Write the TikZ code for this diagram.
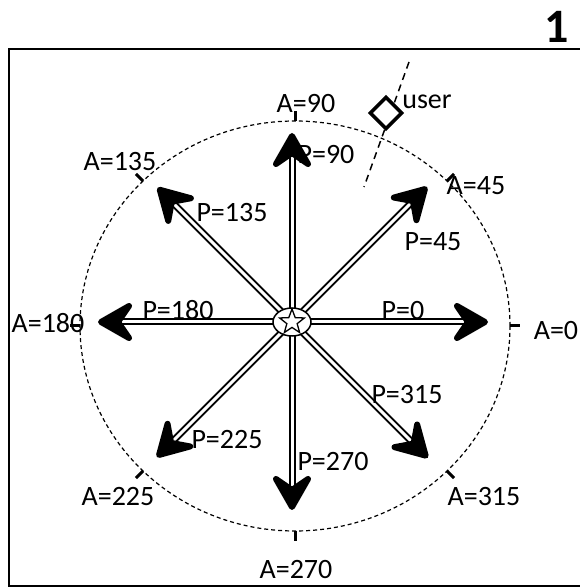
\documentclass[tikz,border=0pt]{standalone}
\usepackage{fontspec}
\setmainfont{Carlito}
\usetikzlibrary{calc,shapes.geometric}

\tikzset{
  pshaft/.style={line width=7pt,shorten >=20pt},
  pgap/.style={white,line width=3pt,shorten >=22pt},
  phead/.pic={\draw[line width=6pt,line join=round,fill] (-3,0) -- (-31,16) -- (-20,0) -- (-31,-16) -- cycle;},
  tck/.style={line width=3pt},
  lbl/.style={inner sep=0pt,font=\fontsize{28}{30}\selectfont},
}

\begin{document}
\begin{tikzpicture}[x=1pt,y=1pt]
      \useasboundingbox (0,0) rectangle (579,587);
      \draw[line width=2pt] (590,1) -- (9,1) -- (9,538) -- (590,538);
      \node[inner sep=0pt,font=\fontsize{48}{50}\selectfont\bfseries] (num) at (557,560) {1};

      % dashed circle and angle ticks
      \coordinate (e) at (295,261);
      \draw[dash pattern=on 4pt off 3pt,line width=1.2pt] (e) ellipse [x radius=215,y radius=205];
      \draw[tck] ($(e)+(0:215 and 205)$) -- ($(e)+(0:225 and 215)$);
      \draw[tck] ($(e)+(45:215 and 205)$) -- ($(e)+(45:225 and 215)$);
      \draw[tck] ($(e)+(90:215 and 205)$) -- ($(e)+(90:225 and 215)$);
      \draw[tck] ($(e)+(135:215 and 205)$) -- ($(e)+(135:225 and 215)$);
      \draw[tck] ($(e)+(180:215 and 205)$) -- ($(e)+(180:225 and 215)$);
      \draw[tck] ($(e)+(225:215 and 205)$) -- ($(e)+(225:225 and 215)$);
      \draw[tck] ($(e)+(270:215 and 205)$) -- ($(e)+(270:225 and 215)$);
      \draw[tck] ($(e)+(315:215 and 205)$) -- ($(e)+(315:225 and 215)$);

      % arrows
      \coordinate (c) at (292,265);
      \coordinate (p0) at ($(c)+(0:196)$);
      \coordinate (p45) at ($(c)+(45:191)$);
      \coordinate (p90) at ($(c)+(90:189)$);
      \coordinate (p135) at ($(c)+(135:190)$);
      \coordinate (p180) at ($(c)+(180:194)$);
      \coordinate (p225) at ($(c)+(225:191)$);
      \coordinate (p270) at ($(c)+(270:188)$);
      \coordinate (p315) at ($(c)+(315:192)$);
      \draw[pshaft] (c) -- (p0);   \draw[pgap] (c) -- (p0);   \pic[rotate=0] at (p0) {phead};
      \draw[pshaft] (c) -- (p45);  \draw[pgap] (c) -- (p45);  \pic[rotate=45] at (p45) {phead};
      \draw[pshaft] (c) -- (p90);  \draw[pgap] (c) -- (p90);  \pic[rotate=90] at (p90) {phead};
      \draw[pshaft] (c) -- (p135); \draw[pgap] (c) -- (p135); \pic[rotate=135] at (p135) {phead};
      \draw[pshaft] (c) -- (p180); \draw[pgap] (c) -- (p180); \pic[rotate=180] at (p180) {phead};
      \draw[pshaft] (c) -- (p225); \draw[pgap] (c) -- (p225); \pic[rotate=225] at (p225) {phead};
      \draw[pshaft] (c) -- (p270); \draw[pgap] (c) -- (p270); \pic[rotate=270] at (p270) {phead};
      \draw[pshaft] (c) -- (p315); \draw[pgap] (c) -- (p315); \pic[rotate=315] at (p315) {phead};

      \node (hub) at (c) [draw,ellipse,fill=white,line width=1.5pt,minimum width=38pt,minimum height=28pt,inner sep=0pt] {};
      \node (st) at (c) [draw,star,star points=5,star point ratio=2.4,line width=1.3pt,minimum size=26pt,inner sep=0pt] {};

      % user
      \coordinate (u1) at (409,525);
      \coordinate (u2) at (364,400);
      \draw[dash pattern=on 7pt off 5pt,line width=1.5pt] (u1) -- (u2);
      \node (usr) at (386,474) [draw,fill=white,line width=3.5pt,rotate=45,minimum size=22pt,inner sep=0pt] {};
      \node[lbl] (ulab) at (427,485) {user};

      \node[lbl] (a0) at (556,256) {A=0};
      \node[lbl] (a45) at (476,401) {A=45};
      \node[lbl] (a90) at (306,483) {A=90};
      \node[lbl] (a135) at (120,425) {A=135};
      \node[lbl] (a180) at (48,264) {A=180};
      \node[lbl] (a225) at (118,90) {A=225};
      \node[lbl] (a270) at (296,17) {A=270};
      \node[lbl] (a315) at (484,90) {A=315};

      \node[lbl] (q0) at (403,276) {P=0};
      \node[lbl] (q45) at (433,345) {P=45};
      \node[lbl] (q90) at (326,432) {P=90};
      \node[lbl] (q135) at (232,374) {P=135};
      \node[lbl] (q180) at (178,277) {P=180};
      \node[lbl] (q225) at (227,147) {P=225};
      \node[lbl] (q270) at (333,125) {P=270};
      \node[lbl] (q315) at (407,192) {P=315};
\end{tikzpicture}
\end{document}
